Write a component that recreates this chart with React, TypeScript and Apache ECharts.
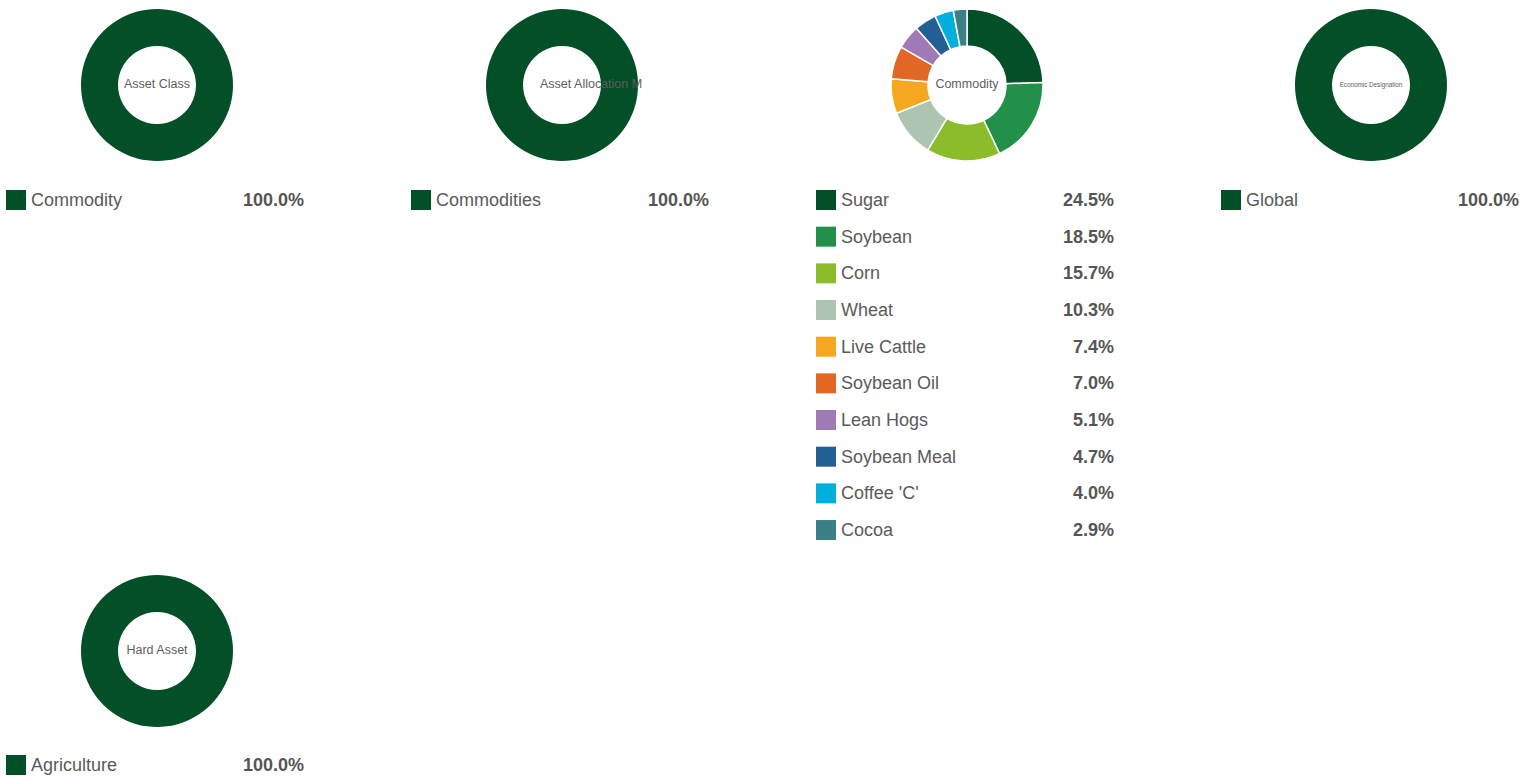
import React, { useEffect, useRef } from "react";
import * as echarts from "echarts";

// ---- data ----
const centerTitles = ["Asset Class", "Asset Allocation Model", "Commodity", "Economic Designation", "Hard Asset"];

const assetClassNames = ["Commodity"];
const assetClassValues = [100.0];

const allocationNames = ["Commodities"];
const allocationValues = [100.0];

const commodityNames = [
  "Sugar", "Soybean", "Corn", "Wheat", "Live Cattle",
  "Soybean Oil", "Lean Hogs", "Soybean Meal", "Coffee 'C'", "Cocoa",
];
const commodityValues = [24.5, 18.5, 15.7, 10.3, 7.4, 7.0, 5.1, 4.7, 4.0, 2.9];
const commodityColors = [
  "#034f28", "#21914a", "#8bbd2b", "#adc5b0", "#f5a81f",
  "#e26727", "#a07ab6", "#235f95", "#00afdc", "#3b8087",
];

const economicNames = ["Global"];
const economicValues = [100.0];

const hardAssetNames = ["Agriculture"];
const hardAssetValues = [100.0];

const singleColor = "#034f28";

// ---- layout ----
const COL_X = [157, 562, 967, 1371];
const ROW_Y = [85, 651];
const LEGEND_TOP = [190, 755];
const COL_LEFT = [6, 411, 816, 1221];

export default function App() {
  const ref = useRef<HTMLDivElement>(null);

  useEffect(() => {
    if (!ref.current) return;
    const chart = echarts.init(ref.current, undefined, { renderer: "svg" });

    const panels = [
      { names: assetClassNames, values: assetClassValues, colors: [singleColor], col: 0, row: 0 },
      { names: allocationNames, values: allocationValues, colors: [singleColor], col: 1, row: 0 },
      { names: commodityNames, values: commodityValues, colors: commodityColors, col: 2, row: 0 },
      { names: economicNames, values: economicValues, colors: [singleColor], col: 3, row: 0 },
      { names: hardAssetNames, values: hardAssetValues, colors: [singleColor], col: 0, row: 1 },
    ];

    const valueMap: Record<string, number> = {};
    panels.forEach((p) => p.names.forEach((n, i) => (valueMap[n] = p.values[i])));

    const series = panels.map((p, idx) => ({
      type: "pie",
      name: "panel_" + idx,
      center: [COL_X[p.col], ROW_Y[p.row]],
      radius: [39, 76],
      startAngle: 90,
      clockwise: true,
      silent: true,
      label: { show: false },
      labelLine: { show: false },
      itemStyle: {
        borderColor: "#ffffff",
        borderWidth: p.names.length > 1 ? 1.5 : 0,
      },
      emphasis: { disabled: true },
      data: p.names.map((n, i) => ({
        name: n,
        value: p.values[i],
        itemStyle: { color: p.colors[i % p.colors.length] },
      })),
    }));

    const legends = panels.map((p) => ({
      orient: "vertical",
      left: COL_LEFT[p.col],
      top: LEGEND_TOP[p.row],
      padding: 0,
      itemWidth: 20,
      itemHeight: 20,
      itemGap: 16.67,
      icon: "rect",
      selectedMode: false,
      itemStyle: { borderWidth: 0 },
      data: p.names,
      formatter: (name: string) => `{n|${name}}{v|${valueMap[name].toFixed(1)}%}`,
      textStyle: {
        fontFamily: "Liberation Sans, Arial, sans-serif",
        rich: {
          n: { width: 200, fontSize: 18, color: "#5a5a5a", lineHeight: 20, align: "left" },
          v: { width: 73, fontSize: 18, color: "#555555", lineHeight: 20, align: "right", fontWeight: "bold" },
        },
      },
    }));

    const titleFonts = [12.5, 12.5, 12.5, 6.3, 12.5];
    const graphics = panels.map((p, idx) => {
      const truncated = idx === 1;
      return {
        type: "text",
        x: truncated ? COL_X[p.col] - 22 : COL_X[p.col],
        y: ROW_Y[p.row] - 1,
        z: 100,
        silent: true,
        style: {
          text: centerTitles[idx],
          fill: "#5e5e5e",
          fontSize: titleFonts[idx],
          fontFamily: "Liberation Sans, Arial, sans-serif",
          align: truncated ? "left" : "center",
          verticalAlign: "middle",
          ...(truncated ? { width: 108, overflow: "truncate", ellipsis: "" } : {}),
        },
      };
    });

    chart.setOption({
      animation: false,
      backgroundColor: "#ffffff",
      tooltip: { show: false },
      legend: legends,
      series,
      graphic: graphics,
    });

    return () => chart.dispose();
  }, []);

  return (
    <div
      ref={ref}
      style={{ position: "absolute", left: 0, top: 0, width: 1534, height: 776 }}
    />
  );
}
